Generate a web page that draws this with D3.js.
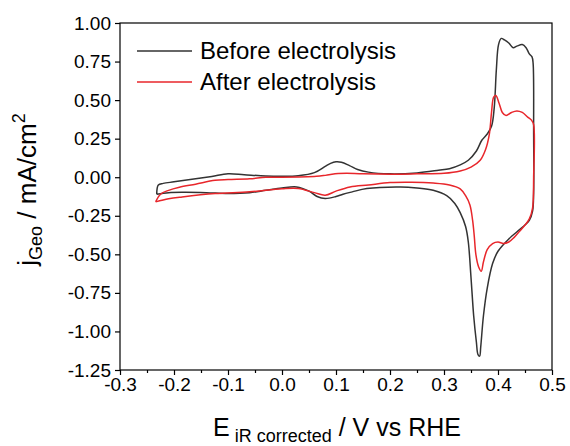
<!DOCTYPE html>
<html>
<head>
<meta charset="utf-8">
<script src="https://cdn.jsdelivr.net/npm/d3@7"></script>
<style>
  html, body { margin: 0; padding: 0; background: #fff; overflow: hidden; }
  svg { display: block; }
  text { font-family: "Liberation Sans", Arial, sans-serif; fill: #000; }
</style>
</head>
<body>
<svg width="570" height="446"></svg>
<script>
// potentials (V vs RHE) and current densities (mA/cm2)
const beforeE = [-0.232, -0.229, -0.22, -0.2, -0.17, -0.13, -0.1, -0.07, -0.03, 0.0, 0.03, 0.06, 0.08, 0.09, 0.1, 0.11, 0.125, 0.14, 0.16, 0.2, 0.25, 0.29, 0.31, 0.33, 0.345, 0.36, 0.37, 0.38, 0.388, 0.393, 0.397, 0.401, 0.406, 0.412, 0.42, 0.428, 0.435, 0.445, 0.452, 0.458, 0.463, 0.465,
  0.466, 0.466, 0.464, 0.458, 0.45, 0.44, 0.42, 0.40, 0.39, 0.38, 0.373, 0.368, 0.366, 0.363, 0.36, 0.355, 0.35, 0.345, 0.34, 0.33, 0.32, 0.305, 0.28, 0.25, 0.22, 0.157, 0.13, 0.113, 0.1, 0.08, 0.065, 0.05, 0.027, 0.0, -0.03, -0.06, -0.1, -0.14, -0.18, -0.21, -0.232];
const beforeJ = [-0.11, -0.05, -0.04, -0.03, -0.015, 0.005, 0.022, 0.016, 0.008, 0.006, 0.01, 0.03, 0.07, 0.09, 0.10, 0.097, 0.075, 0.05, 0.033, 0.022, 0.028, 0.045, 0.055, 0.08, 0.11, 0.17, 0.24, 0.28, 0.33, 0.45, 0.70, 0.86, 0.90, 0.89, 0.87, 0.84, 0.85, 0.86, 0.84, 0.80, 0.78, 0.74,
  0.3, -0.1, -0.22, -0.28, -0.31, -0.34, -0.40, -0.48, -0.56, -0.72, -0.9, -1.10, -1.16, -1.15, -1.07, -0.9, -0.65, -0.42, -0.32, -0.23, -0.17, -0.12, -0.085, -0.07, -0.063, -0.073, -0.095, -0.11, -0.125, -0.138, -0.125, -0.09, -0.063, -0.07, -0.085, -0.1, -0.105, -0.10, -0.098, -0.10, -0.11];

const afterE = [-0.234, -0.225, -0.21, -0.19, -0.16, -0.124, -0.1, -0.06, -0.03, 0.0, 0.064, 0.08, 0.104, 0.12, 0.15, 0.22, 0.25, 0.3, 0.33, 0.35, 0.367, 0.377, 0.384, 0.388, 0.392, 0.396, 0.402, 0.408, 0.415, 0.425, 0.435, 0.445, 0.455, 0.462, 0.466,
  0.466, 0.464, 0.458, 0.45, 0.44, 0.43, 0.42, 0.41, 0.40, 0.39, 0.38, 0.373, 0.369, 0.364, 0.359, 0.356, 0.353, 0.348, 0.34, 0.33, 0.31, 0.28, 0.24, 0.2, 0.16, 0.126, 0.1, 0.08, 0.06, 0.03, 0.0, -0.06, -0.124, -0.185, -0.21, -0.234];
const afterJ = [-0.16, -0.11, -0.085, -0.065, -0.045, -0.02, -0.015, -0.01, 0.0, 0.0, 0.006, 0.012, 0.024, 0.026, 0.022, 0.02, 0.022, 0.025, 0.04, 0.065, 0.11, 0.18, 0.28, 0.42, 0.52, 0.53, 0.48, 0.42, 0.40, 0.42, 0.43, 0.42, 0.39, 0.37, 0.34,
  0.0, -0.2, -0.27, -0.31, -0.35, -0.39, -0.42, -0.43, -0.42, -0.43, -0.47, -0.55, -0.61, -0.58, -0.50, -0.38, -0.28, -0.18, -0.12, -0.075, -0.05, -0.038, -0.033, -0.035, -0.05, -0.063, -0.09, -0.117, -0.1, -0.073, -0.075, -0.095, -0.106, -0.128, -0.14, -0.16];

const xTicks = [-0.3, -0.2, -0.1, 0.0, 0.1, 0.2, 0.3, 0.4, 0.5];
const yTicks = [1.00, 0.75, 0.50, 0.25, 0.00, -0.25, -0.50, -0.75, -1.00, -1.25];
const seriesNames = ['Before electrolysis', 'After electrolysis'];
const seriesColors = ['#333333', '#e8262b'];

const svg = d3.select('svg');
const width = +svg.attr('width');
const height = +svg.attr('height');
const margin = { top: 23, right: 18, bottom: 76, left: 120 };
const innerWidth = width - margin.left - margin.right;
const innerHeight = height - margin.top - margin.bottom;

svg.append('rect').attr('width', width).attr('height', height).attr('fill', '#fff');

const x = d3.scaleLinear().domain([-0.3, 0.5]).range([0, innerWidth]);
const y = d3.scaleLinear().domain([-1.25, 1.0]).range([innerHeight, 0]);

// plain hyphen for negatives, like the original
const fmt = p => d => d3.format(p)(d).replace('\u2212', '-');

const g = svg.append('g')
  .attr('transform', `translate(${margin.left}, ${margin.top})`);

const line = d3.line()
  .x(d => x(d[0]))
  .y(d => y(d[1]))
  .curve(d3.curveCatmullRom.alpha(0.5));

const series = [
  beforeE.map((e, i) => [e, beforeJ[i]]),
  afterE.map((e, i) => [e, afterJ[i]])
];

series.forEach((s, i) => {
  g.append('path')
    .attr('d', line(s))
    .attr('fill', 'none')
    .attr('stroke', seriesColors[i])
    .attr('stroke-width', 1.5)
    .attr('stroke-linejoin', 'round');
});

// frame
g.append('rect')
  .attr('width', innerWidth)
  .attr('height', innerHeight)
  .attr('fill', 'none')
  .attr('stroke', '#000')
  .attr('stroke-width', 1.2);

const xAxis = g.append('g')
  .attr('transform', `translate(0, ${innerHeight})`)
  .call(d3.axisBottom(x).tickValues(xTicks).tickFormat(fmt('.1f')).tickSize(5).tickPadding(3));

const xMinor = g.append('g')
  .attr('transform', `translate(0, ${innerHeight})`)
  .call(d3.axisBottom(x).tickValues(xTicks.slice(0, -1).map(d => d + 0.05)).tickSize(3));
xMinor.selectAll('text').remove();

const yAxis = g.append('g')
  .call(d3.axisLeft(y).tickValues(yTicks).tickFormat(fmt('.2f')).tickSize(5).tickPadding(4));

[xAxis, xMinor, yAxis].forEach(a => {
  a.select('.domain').remove();
  a.selectAll('line').attr('stroke', '#000').attr('stroke-width', 1.2);
  a.selectAll('text').attr('font-size', 19).attr('fill', '#000')
    .attr('font-family', '"Liberation Sans", Arial, sans-serif');
});

// legend
const legend = g.append('g').attr('transform', 'translate(17, 28)');
seriesNames.forEach((name, i) => {
  const row = legend.append('g').attr('transform', `translate(0, ${i * 31})`);
  row.append('line')
    .attr('x1', 0).attr('x2', 55)
    .attr('stroke', seriesColors[i])
    .attr('stroke-width', 1.5);
  row.append('text')
    .attr('x', 63)
    .attr('y', 8)
    .attr('font-size', 24)
    .text(name);
});

// axis titles
const xTitle = svg.append('text')
  .attr('x', margin.left + innerWidth / 2 + 1)
  .attr('y', 436)
  .attr('text-anchor', 'middle')
  .attr('font-size', 25);
xTitle.append('tspan').text('E');
xTitle.append('tspan').attr('font-size', 18).attr('dy', 6).text(' iR corrected');
xTitle.append('tspan').attr('dy', -6).text(' / V vs RHE');

const yTitle = svg.append('text')
  .attr('transform', `translate(36, ${margin.top + innerHeight / 2 - 7}) rotate(-90)`)
  .attr('text-anchor', 'middle')
  .attr('font-size', 26);
yTitle.append('tspan').text('j');
yTitle.append('tspan').attr('font-size', 18).attr('dy', 6).text('Geo');
yTitle.append('tspan').attr('dy', -6).text(' / mA/cm');
yTitle.append('tspan').attr('font-size', 18).attr('dy', -11).text('2');
</script>
</body>
</html>
